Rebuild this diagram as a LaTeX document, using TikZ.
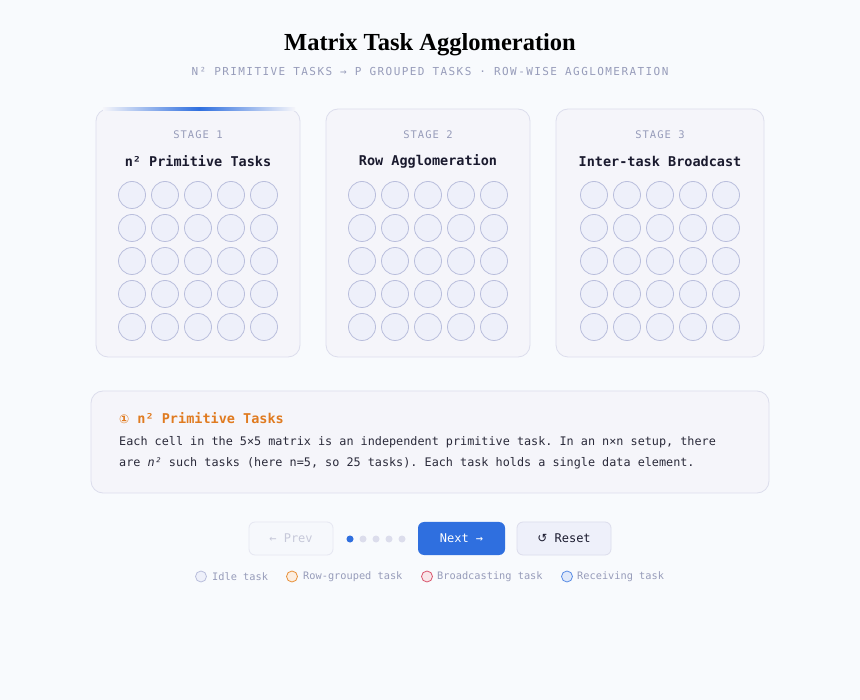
\documentclass[tikz,border=0pt]{standalone}
\usepackage{fontspec}
\setmainfont{Liberation Serif}
\setmonofont{DejaVu Sans Mono}
\newfontfamily\spacedmono[LetterSpace=10]{DejaVu Sans Mono}
\newfontfamily\widemono[LetterSpace=13]{DejaVu Sans Mono}
\newfontfamily\symfont{DejaVu Sans}

\definecolor{pagebg}{HTML}{F8FAFD}
\definecolor{cardfill}{HTML}{F5F5FA}
\definecolor{cardline}{HTML}{DCDDEC}
\definecolor{taskfill}{HTML}{EEF0FA}
\definecolor{taskline}{HTML}{B9BEDC}
\definecolor{muted}{HTML}{979CBA}
\definecolor{ink}{HTML}{1A1A2E}
\definecolor{accent}{HTML}{2F6FDF}
\definecolor{orangetxt}{HTML}{E07B20}
\definecolor{bodytxt}{HTML}{2A2A3A}
\definecolor{rowkey}{HTML}{E8913A}
\definecolor{bcastkey}{HTML}{D9566E}

\begin{document}
\begin{tikzpicture}[x=1pt,y=-1pt,
  card/.style={draw=cardline,fill=cardfill,rounded corners=12pt,line width=.8pt,
    minimum height=248pt,inner sep=0pt},
  task/.style={circle,draw=taskline,fill=taskfill,minimum size=27pt,inner sep=0pt,line width=.8pt},
  stagelabel/.style={font=\spacedmono\fontsize{10.5}{12}\selectfont,text=muted},
  cardtitle/.style={font=\ttfamily\bfseries\fontsize{13.5}{16}\selectfont,text=ink},
  body/.style={anchor=west,inner sep=0pt,font=\ttfamily\fontsize{11.8}{14}\selectfont,text=bodytxt},
  btn/.style={rounded corners=6pt,minimum height=33pt,inner sep=0pt,line width=.8pt,
    font=\ttfamily\fontsize{12}{14}\selectfont},
  dot/.style={circle,inner sep=0pt,minimum size=7pt},
  key/.style={circle,inner sep=0pt,minimum size=11pt,line width=.8pt},
  keytext/.style={anchor=west,inner sep=0pt,font=\ttfamily\fontsize{10.3}{12}\selectfont,text=muted}]
\fill[pagebg] (0,0) rectangle (860,700);
\useasboundingbox (0,0) rectangle (860,700);

\node (title) at (430,45) {\fontsize{24.5}{28}\selectfont\bfseries Matrix Task Agglomeration};
\node[font=\widemono\fontsize{11}{13}\selectfont,text=muted] (subtitle) at (430,72)
  {N² PRIMITIVE TASKS → P GROUPED TASKS · ROW-WISE AGGLOMERATION};

\foreach \i/\cx/\w/\lbl in {1/198/204/{n² Primitive Tasks},2/428/204/{Row Agglomeration},3/660/208/{Inter-task Broadcast}} {
  \node[card,minimum width=\w pt] (card\i) at (\cx,233) {};
  \node[stagelabel] (stage\i) at (\cx,135) {STAGE \i};
  \node[cardtitle] (name\i) at (\cx,161) {\lbl};
  \foreach \r in {0,...,4}
    \foreach \c in {0,...,4}
      \node[task] (t\i-\r-\c) at (\cx-66+33*\c,195+33*\r) {};
}
\shade[left color=cardfill,right color=cardfill,middle color=accent] (103,108) rectangle (295,110.5);

\node[draw=cardline,fill=cardfill,rounded corners=12pt,line width=.8pt,
  minimum width=678pt,minimum height=102pt] (info) at (430,442) {};
\node[anchor=west,inner sep=0pt,text=orangetxt,font=\ttfamily\bfseries\fontsize{13.5}{15}\selectfont]
  (infotitle) at (119,418) {{\symfont\fontsize{12}{14}\selectfont ①} n² Primitive Tasks};
\node[body] (line1) at (119,442)
  {Each cell in the 5×5 matrix is an independent primitive task. In an n×n setup, there};
\node[body] (line2) at (119,463)
  {are \textit{n²} such tasks (here n=5, so 25 tasks). Each task holds a single data element.};

\node[btn,minimum width=84pt,fill=taskfill!50,draw=cardline!70,text=muted!55] (prev) at (291,538.5)
  {← Prev};
\foreach \k/\x in {1/350,2/363,3/376,4/389,5/402}
  \node[dot,fill=cardline] (dot\k) at (\x,539) {};
\node[dot,fill=accent] at (dot1) {};
\node[btn,minimum width=87pt,fill=accent,text=white] (next) at (461.5,538.5) {Next →};
\node[btn,minimum width=94pt,fill=taskfill,draw=cardline,text=ink] (reset) at (564,538.5)
  {{\symfont ↺}\ Reset};

\node[key,fill=taskfill,draw=taskline] (kidle) at (201,576.5) {};
\node[keytext] at (212,576.5) {Idle task};
\node[key,fill=rowkey!15,draw=rowkey] (krow) at (292,576.5) {};
\node[keytext] at (303,576.5) {Row-grouped task};
\node[key,fill=bcastkey!15,draw=bcastkey] (kbcast) at (427,576.5) {};
\node[keytext] at (437,576.5) {Broadcasting task};
\node[key,fill=accent!15,draw=accent!80] (krecv) at (567,576.5) {};
\node[keytext] at (577,576.5) {Receiving task};
\end{tikzpicture}
\end{document}
